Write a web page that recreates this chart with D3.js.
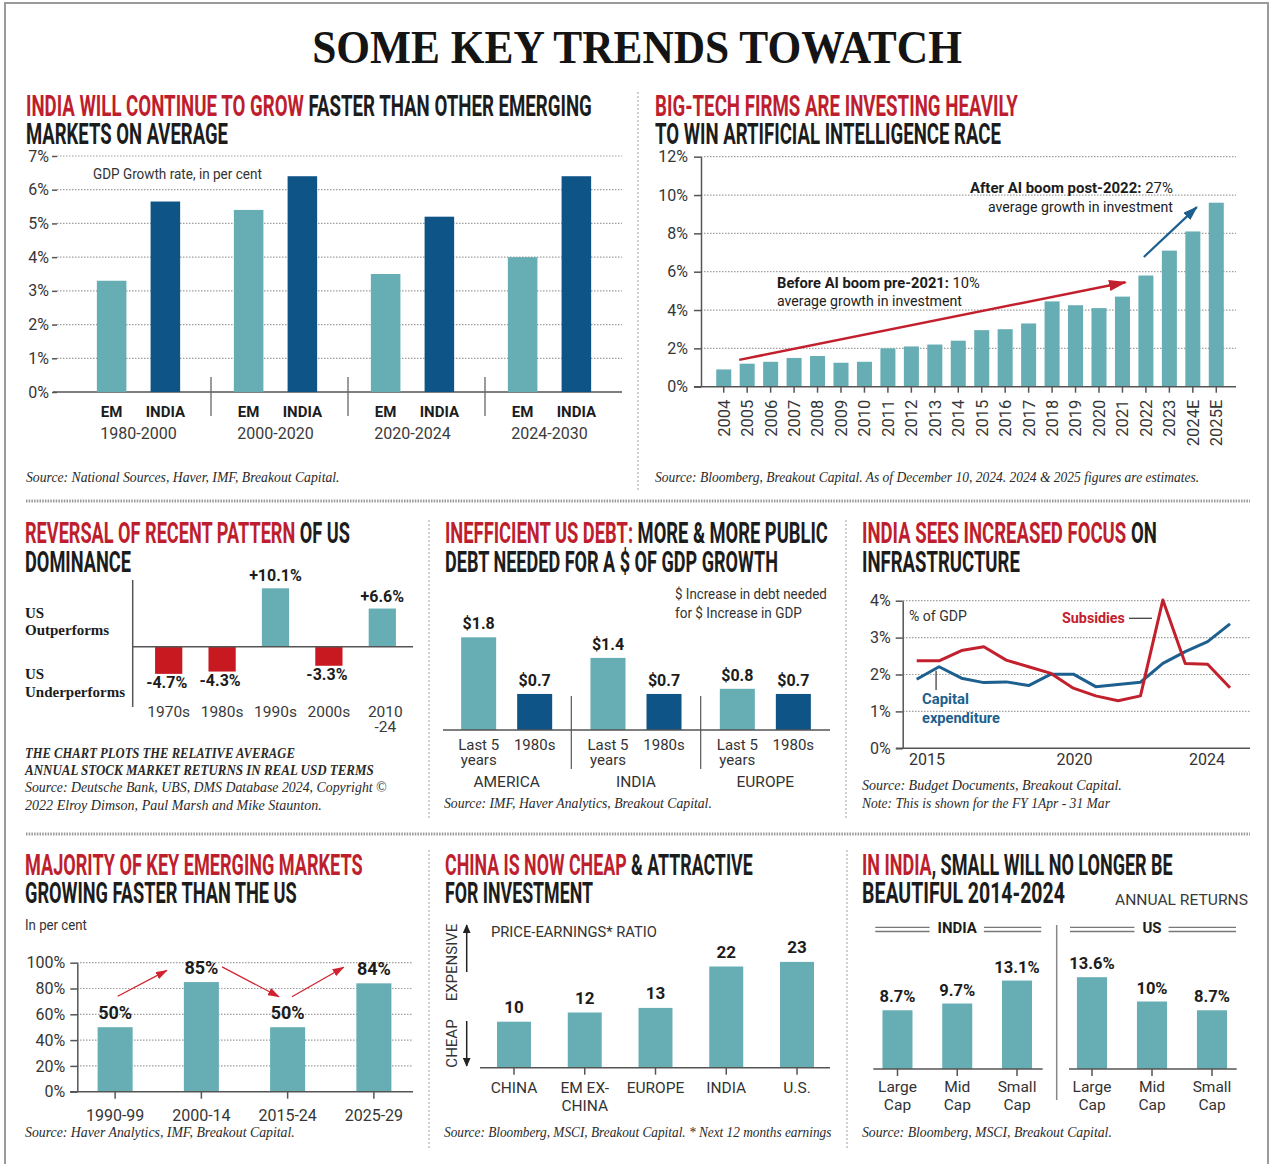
<!DOCTYPE html>
<html><head><meta charset="utf-8">
<script src="https://cdn.jsdelivr.net/npm/d3@7"></script>
<style>body{margin:0;background:#fff}svg{display:block}</style>
</head><body>
<script>
// ================= DATA =================
const gdpPeriods = ["1980-2000", "2000-2020", "2020-2024", "2024-2030"];
const gdpSeries = ["EM", "INDIA"];
const gdpEM = [3.3, 5.4, 3.5, 4.0];
const gdpIndia = [5.65, 6.4, 5.2, 6.4];
const gdpTicks = [0, 1, 2, 3, 4, 5, 6, 7];

const aiYears = ["2004","2005","2006","2007","2008","2009","2010","2011","2012","2013","2014","2015","2016","2017","2018","2019","2020","2021","2022","2023","2024E","2025E"];
const aiInvestment = [0.9,1.2,1.3,1.5,1.6,1.25,1.3,2.0,2.1,2.2,2.4,2.95,3.0,3.3,4.45,4.25,4.1,4.7,5.8,7.1,8.1,9.6];
const aiTicks = [0, 2, 4, 6, 8, 10, 12];

const usDecades = ["1970s","1980s","1990s","2000s","2010-24"];
const usDecadeLabels = [["1970s"],["1980s"],["1990s"],["2000s"],["2010","-24"]];
const usRelReturns = [-4.7, -4.3, 10.1, -3.3, 6.6];

const debtRegions = ["AMERICA","INDIA","EUROPE"];
const debtPeriods = ["Last 5 years","1980s"];
const debtPeriodLabels = [["Last 5","years"],["1980s"]];
const debtLast5 = [1.8, 1.4, 0.8];
const debt1980s = [0.7, 0.7, 0.7];

const infraCapex = [1.87,2.21,1.90,1.78,1.80,1.70,2.01,2.01,1.67,1.73,1.79,2.30,2.62,2.89,3.37];
const infraSubsidies = [2.37,2.37,2.65,2.75,2.39,2.21,2.03,1.63,1.42,1.29,1.42,4.02,2.30,2.28,1.64];
const infraTicks = [0, 1, 2, 3, 4];
const infraYearTicks = [2015, 2020, 2024];

const emPeriods = ["1990-99","2000-14","2015-24","2025-29"];
const emShareFaster = [50, 85, 50, 84];
const emTicks = [0, 20, 40, 60, 80, 100];

const peMarkets = ["CHINA","EM EX-CHINA","EUROPE","INDIA","U.S."];
const peMarketLabels = [["CHINA"],["EM EX-","CHINA"],["EUROPE"],["INDIA"],["U.S."]];
const peRatios = [10, 12, 13, 22, 23];

const capSizes = ["Large Cap","Mid Cap","Small Cap"];
const capSizeLabels = [["Large","Cap"],["Mid","Cap"],["Small","Cap"]];
const indiaCapReturns = [8.7, 9.7, 13.1];
const usCapReturns = [13.6, 10, 8.7];

// ================= STYLE =================
const TEAL = "#66adb4", NAVY = "#0e5487", BRED = "#c81820", HRED = "#be1e2d",
      INK = "#1c1c1c", GREY = "#363636", AXIS = "#555", GRID = "#9e9e9e",
      LRED = "#c3202e", LBLUE = "#1d5f8e";
const SANS = "Roboto, 'Open Sans', 'Liberation Sans', sans-serif";
const SERIF = "'Liberation Serif', 'DejaVu Serif', serif";

const W = 1274, H = 1164;
const svg = d3.select("body").append("svg").attr("width", W).attr("height", H);
svg.append("rect").attr("width", W).attr("height", H).attr("fill", "#fff");
const defs = svg.append("defs");

function marker(id, color, len, wid) {
  defs.append("marker").attr("id", id).attr("viewBox", "0 0 12 8").attr("refX", 11).attr("refY", 4)
    .attr("markerUnits", "userSpaceOnUse").attr("markerWidth", len).attr("markerHeight", wid)
    .attr("orient", "auto").attr("preserveAspectRatio", "none")
    .append("path").attr("d", "M0,0L12,4L0,8Z").attr("fill", color);
}
marker("arRed", LRED, 18, 11);
marker("arBlue", LBLUE, 15, 10);
marker("arRedSm", "#d1232f", 12, 8);
marker("arBlk", "#222", 9, 8);

function label(parent, x, y, content, o = {}) {
  const t = parent.append("text")
    .attr("transform", `translate(${x},${y})`)
    .attr("font-family", o.family || SANS)
    .attr("font-size", o.size || 15)
    .attr("font-weight", o.weight || 400)
    .attr("font-style", o.style || "normal")
    .attr("fill", o.fill || GREY)
    .attr("text-anchor", o.anchor || "start")
    .style("white-space", "pre");
  if (Array.isArray(content)) {
    content.forEach(p => {
      const ts = t.append("tspan").text(p[0]);
      if (p[1]) ts.attr("fill", p[1]);
      if (p[2]) ts.attr("font-weight", p[2]);
    });
  } else t.text(content);
  if (o.width) {
    const w = t.node().getComputedTextLength();
    t.attr("transform", `translate(${x},${y}) scale(${o.width / w},${o.sy || 1})`);
  }
  if (o.rotate) t.attr("transform", `translate(${x},${y}) rotate(${o.rotate})`);
  return t;
}
function headline(x, y, parts, width) {
  return label(svg, x, y, parts, { size: 25, sy: 1.16, weight: 700, width, fill: INK });
}
function source(x, y, s, width, bold) {
  return label(svg, x, y, s, { family: SERIF, size: 15, style: "italic", weight: bold ? 700 : 400, width, fill: "#2a2a2a" });
}
function hline(g, x1, x2, y, o = {}) {
  return g.append("line").attr("x1", x1).attr("x2", x2).attr("y1", y).attr("y2", y)
    .attr("stroke", o.stroke || AXIS).attr("stroke-width", o.w || 1.5)
    .attr("stroke-dasharray", o.dash || null);
}
function vline(g, x, y1, y2, o = {}) {
  return g.append("line").attr("x1", x).attr("x2", x).attr("y1", y1).attr("y2", y2)
    .attr("stroke", o.stroke || AXIS).attr("stroke-width", o.w || 1.5)
    .attr("stroke-dasharray", o.dash || null);
}
function styleAxis(ax, showDomain) {
  ax.attr("font-family", SANS).attr("font-size", 16);
  ax.select(".domain").attr("stroke", showDomain ? AXIS : "none").attr("stroke-width", 1.5);
  ax.selectAll(".tick line").attr("stroke", AXIS).attr("stroke-width", 1.5);
  ax.selectAll(".tick text").attr("fill", GREY);
}
function multiline(g, x, y, lines, o) {
  lines.forEach((s, i) => label(g, x, y + i * (o.lh || 17), s, o));
}

// ================= FRAME & DIVIDERS =================
svg.append("path").attr("d", `M5,${H}V3H1268V${H}`).attr("fill", "none").attr("stroke", "#9a9a9a").attr("stroke-width", 2);
const dv = svg.append("g");
hline(dv, 26, 1250, 501, { stroke: "#9a9a9a", w: 3, dash: "1.5,1.2" });
hline(dv, 26, 1250, 834, { stroke: "#9a9a9a", w: 3, dash: "1.5,1.2" });
[[638, 92, 492], [429, 520, 818], [846, 520, 818], [429, 850, 1150], [847, 850, 1150]]
  .forEach(d => vline(dv, d[0], d[1], d[2], { stroke: "#a0a0a0", w: 1, dash: "2,2" }));

// ================= TITLE =================
label(svg, 637, 63, "SOME KEY TRENDS TOWATCH", { family: SERIF, size: 46, weight: 700, anchor: "middle", width: 650, fill: "#141414" });

// ================= PANEL 1 =================
{
  const g = svg.append("g");
  headline(26, 116, [["INDIA WILL CONTINUE TO GROW", HRED], [" FASTER THAN OTHER EMERGING", INK]], 566);
  headline(26, 144, [["MARKETS ON AVERAGE", INK]], 202);
  const y = d3.scaleLinear().domain([0, 7]).range([392, 156]);
  const x0 = d3.scaleBand().domain(gdpPeriods).range([70, 618]);
  const x1 = d3.scaleBand().domain(gdpSeries).range([0, x0.bandwidth()]).paddingInner(0.45).paddingOuter(0.5);
  g.selectAll(".grid").data(gdpTicks.filter(d => d > 0)).join("line")
    .attr("x1", 57).attr("x2", 622).attr("y1", d => y(d)).attr("y2", d => y(d))
    .attr("stroke", GRID).attr("stroke-width", 1.2).attr("stroke-dasharray", "1.5,1.5");
  const ax = g.append("g").attr("transform", "translate(57,0)")
    .call(d3.axisLeft(y).tickValues(gdpTicks).tickFormat(d => d + "%").tickSize(5).tickPadding(3));
  styleAxis(ax, false);
  hline(g, 53, 622, y(0));
  label(g, 93, 179, "GDP Growth rate, in per cent", { size: 14, width: 169, fill: "#333" });
  const vals = { EM: gdpEM, INDIA: gdpIndia };
  const col = { EM: TEAL, INDIA: NAVY };
  gdpPeriods.forEach((p, i) => {
    gdpSeries.forEach(s => {
      const v = vals[s][i];
      g.append("rect").attr("x", x0(p) + x1(s)).attr("width", x1.bandwidth())
        .attr("y", y(v)).attr("height", y(0) - y(v)).attr("fill", col[s]);
      label(g, x0(p) + x1(s) + x1.bandwidth() / 2, 417, s, { size: 15, weight: 700, anchor: "middle", fill: INK });
    });
    label(g, x0(p) + x0.bandwidth() / 2, 439, p, { size: 16, anchor: "middle", fill: "#3a3a3a" });
    if (i > 0) vline(g, x0(p) + 4, 377, 416, { stroke: "#666", w: 1.3 });
  });
  source(26, 482, "Source: National Sources, Haver, IMF, Breakout Capital.", 314);
}

// ================= PANEL 2 =================
{
  const g = svg.append("g");
  headline(655, 116, [["BIG-TECH FIRMS ARE INVESTING HEAVILY", HRED]], 363);
  headline(655, 144, [["TO WIN ARTIFICIAL INTELLIGENCE RACE", INK]], 346);
  const y = d3.scaleLinear().domain([0, 12]).range([386.7, 156.7]);
  const x = d3.scaleBand().domain(aiYears).range([712, 1228]).paddingInner(0.36).paddingOuter(0.18);
  g.selectAll(".grid").data(aiTicks.filter(d => d > 0)).join("line")
    .attr("x1", 701).attr("x2", 1236).attr("y1", d => y(d)).attr("y2", d => y(d))
    .attr("stroke", GRID).attr("stroke-width", 1.2).attr("stroke-dasharray", "1.5,1.5");
  g.selectAll(".bar").data(aiInvestment).join("rect")
    .attr("x", (d, i) => x(aiYears[i])).attr("width", x.bandwidth())
    .attr("y", d => y(d)).attr("height", d => y(0) - y(d)).attr("fill", TEAL);
  const ay = g.append("g").attr("transform", "translate(701,0)")
    .call(d3.axisLeft(y).tickValues(aiTicks).tickFormat(d => d + "%").tickSize(7).tickPadding(6).tickSizeOuter(0));
  styleAxis(ay, true);
  hline(g, 694, 1236, y(0));
  const axb = g.append("g").attr("transform", `translate(0,${y(0)})`)
    .call(d3.axisBottom(x).tickSize(6).tickSizeOuter(0));
  styleAxis(axb, false);
  axb.selectAll(".tick text").attr("transform", "rotate(-90)").attr("text-anchor", "end")
    .attr("x", -13).attr("y", 0).attr("dy", "0.36em").attr("font-size", 16.5);
  const xc = k => x(k) + x.bandwidth() / 2;
  g.append("line").attr("x1", xc("2005") - 8).attr("y1", y(1.4)).attr("x2", xc("2021") + 3).attr("y2", y(5.45))
    .attr("stroke", LRED).attr("stroke-width", 2.5).attr("marker-end", "url(#arRed)");
  g.append("line").attr("x1", xc("2022") - 2).attr("y1", y(6.77)).attr("x2", xc("2024E") + 4).attr("y2", y(9.37))
    .attr("stroke", LBLUE).attr("stroke-width", 2.2).attr("marker-end", "url(#arBlue)");
  label(g, 777, 288, [["Before AI boom pre-2021:", INK, 700], [" 10%", INK, 400]], { size: 15, width: 203 });
  label(g, 777, 306, "average growth in investment", { size: 15, width: 185, fill: INK });
  label(g, 970, 193, [["After AI boom post-2022:", INK, 700], [" 27%", INK, 400]], { size: 15, width: 203 });
  label(g, 988, 212, "average growth in investment", { size: 15, width: 185, fill: INK });
  source(655, 482, "Source: Bloomberg, Breakout Capital. As of December 10, 2024. 2024 & 2025 figures are estimates.", 545);
}

// ================= PANEL 3 =================
{
  const g = svg.append("g");
  headline(25, 543, [["REVERSAL OF RECENT PATTERN", HRED], [" OF US", INK]], 325);
  headline(25, 572, [["DOMINANCE", INK]], 106);
  const y = d3.scaleLinear().domain([-5, 11]).range([675.6, 583.1]);
  const x = d3.scaleBand().domain(usDecades).range([142, 409]).paddingInner(0.49).paddingOuter(0.245);
  usDecades.forEach((dcd, i) => {
    const v = usRelReturns[i];
    const cx = x(dcd) + x.bandwidth() / 2;
    g.append("rect").attr("x", x(dcd)).attr("width", x.bandwidth())
      .attr("y", y(Math.max(0, v))).attr("height", Math.abs(y(v) - y(0)))
      .attr("fill", v >= 0 ? TEAL : BRED);
    const txt = (v > 0 ? "+" : "") + v.toFixed(1) + "%";
    label(g, cx - (v < 0 ? 2 : 0), v >= 0 ? y(v) - 7 : y(v) + 14, txt, { size: 16, weight: 700, anchor: "middle", fill: INK });
    multiline(g, cx + (usDecadeLabels[i].length > 1 ? 3 : 0), 717, usDecadeLabels[i], { size: 15.5, anchor: "middle", fill: "#3a3a3a", lh: 15 });
  });
  vline(g, 132.7, 580, 707, { stroke: "#555", w: 1.5 });
  hline(g, 132.7, 413, y(0), { stroke: "#555", w: 1.5 });
  const lo = { family: SERIF, size: 15, weight: 700, fill: INK };
  label(g, 25, 618, "US", lo); label(g, 25, 635, "Outperforms", lo);
  label(g, 25, 679, "US", lo); label(g, 25, 697, "Underperforms", lo);
  source(25, 758, "THE CHART PLOTS THE RELATIVE AVERAGE", 270, true);
  source(25, 775, "ANNUAL STOCK MARKET RETURNS IN REAL USD TERMS", 349, true);
  source(25, 792, "Source: Deutsche Bank, UBS, DMS Database 2024, Copyright ©", 362);
  source(25, 810, "2022 Elroy Dimson, Paul Marsh and Mike Staunton.", 297);
}

// ================= PANEL 4 =================
{
  const g = svg.append("g");
  headline(445, 543, [["INEFFICIENT US DEBT:", HRED], [" MORE & MORE PUBLIC", INK]], 383);
  headline(445, 572, [["DEBT NEEDED FOR A $ OF GDP GROWTH", INK]], 333);
  label(g, 675, 599, "$ Increase in debt needed", { size: 14.5, width: 152, fill: "#333" });
  label(g, 675, 618, "for $ Increase in GDP", { size: 14.5, width: 127, fill: "#333" });
  const y = d3.scaleLinear().domain([0, 2]).range([730, 627]);
  const x0 = d3.scaleBand().domain(debtRegions).range([442, 830]);
  const x1 = d3.scaleBand().domain(debtPeriods).range([0, x0.bandwidth()]).paddingInner(0.375).paddingOuter(0.342);
  const vals = { "Last 5 years": debtLast5, "1980s": debt1980s };
  const col = { "Last 5 years": TEAL, "1980s": NAVY };
  debtRegions.forEach((r, i) => {
    debtPeriods.forEach((p, j) => {
      const v = vals[p][i];
      const bx = x0(r) + x1(p);
      const cx = bx + x1.bandwidth() / 2;
      g.append("rect").attr("x", bx).attr("width", x1.bandwidth()).attr("y", y(v)).attr("height", y(0) - y(v)).attr("fill", col[p]);
      label(g, cx, y(v) - 8, "$" + v.toFixed(1), { size: 16, weight: 700, anchor: "middle", fill: INK });
      multiline(g, cx, 750, debtPeriodLabels[j], { size: 15, anchor: "middle", fill: "#333", lh: 15 });
    });
    label(g, x0(r) + x0.bandwidth() / 2, 787, r, { size: 15.5, anchor: "middle", fill: "#333" });
    if (i > 0) vline(g, x0(r), 696, 769, { stroke: "#666", w: 1.3 });
  });
  hline(g, 443, 830, y(0));
  source(444, 808, "Source: IMF, Haver Analytics, Breakout Capital.", 268);
}

// ================= PANEL 5 =================
{
  const g = svg.append("g");
  headline(862, 543, [["INDIA SEES INCREASED FOCUS", HRED], [" ON", INK]], 295);
  headline(862, 572, [["INFRASTRUCTURE", INK]], 158);
  const y = d3.scaleLinear().domain([0, 4]).range([748.3, 600.7]);
  const x = d3.scaleLinear().domain([0, infraCapex.length - 1]).range([916.7, 1230]);
  const xYear = d3.scaleLinear().domain([2015, 2024]).range([927, 1207]);
  g.selectAll(".grid").data(infraTicks.filter(d => d > 0)).join("line")
    .attr("x1", 903).attr("x2", 1250).attr("y1", d => y(d)).attr("y2", d => y(d))
    .attr("stroke", GRID).attr("stroke-width", 1.2).attr("stroke-dasharray", "1.5,1.5");
  const ay = g.append("g").attr("transform", "translate(902.7,0)")
    .call(d3.axisLeft(y).tickValues(infraTicks).tickFormat(d => d + "%").tickSize(7).tickPadding(5).tickSizeOuter(0));
  styleAxis(ay, true);
  hline(g, 896, 1250, y(0));
  infraYearTicks.forEach(yr => label(g, xYear(yr) - (yr === 2020 ? 8 : 0), 765, String(yr), { size: 16, anchor: "middle", fill: "#333" }));
  const line = d3.line().x((d, i) => x(i)).y(d => y(d));
  g.append("path").attr("d", line(infraCapex)).attr("fill", "none").attr("stroke", LBLUE).attr("stroke-width", 3).attr("stroke-linejoin", "round");
  g.append("path").attr("d", line(infraSubsidies)).attr("fill", "none").attr("stroke", LRED).attr("stroke-width", 3).attr("stroke-linejoin", "round");
  label(g, 909, 621, "% of GDP", { size: 14, width: 58, fill: "#333" });
  label(g, 1062, 623, "Subsidies", { size: 15, weight: 700, width: 63, fill: LRED });
  hline(g, 1129, 1152, 618.3, { stroke: "#444", w: 1.3 });
  vline(g, x(1) - 3, y(2.1), 690, { stroke: "#444", w: 1.3 });
  label(g, 922, 704, "Capital", { size: 15, weight: 700, width: 47, fill: LBLUE });
  label(g, 922, 723, "expenditure", { size: 15, weight: 700, width: 78, fill: LBLUE });
  source(862, 790, "Source: Budget Documents, Breakout Capital.", 260);
  source(862, 808, "Note: This is shown for the FY 1Apr - 31 Mar", 248);
}

// ================= PANEL 6 =================
{
  const g = svg.append("g");
  headline(25, 875, [["MAJORITY OF KEY EMERGING MARKETS", HRED]], 338);
  headline(25, 903, [["GROWING FASTER THAN THE US", INK]], 272);
  label(g, 25, 930, "In per cent", { size: 14, width: 62, fill: "#333" });
  const y = d3.scaleLinear().domain([0, 100]).range([1091.7, 962.7]);
  const x = d3.scaleBand().domain(emPeriods).range([72, 417]).paddingInner(0.594).paddingOuter(0.297);
  g.selectAll(".grid").data(emTicks.filter(d => d > 0)).join("line")
    .attr("x1", 77).attr("x2", 413).attr("y1", d => y(d)).attr("y2", d => y(d))
    .attr("stroke", GRID).attr("stroke-width", 1.2).attr("stroke-dasharray", "1.5,1.5");
  const ay = g.append("g").attr("transform", "translate(77.3,0)")
    .call(d3.axisLeft(y).tickValues(emTicks).tickFormat(d => d + "%").tickSize(7).tickPadding(5).tickSizeOuter(0));
  styleAxis(ay, true);
  g.selectAll(".bar").data(emShareFaster).join("rect")
    .attr("x", (d, i) => x(emPeriods[i])).attr("width", x.bandwidth())
    .attr("y", d => y(d)).attr("height", d => y(0) - y(d)).attr("fill", TEAL);
  hline(g, 70, 413, y(0));
  const ax = g.append("g").attr("transform", `translate(0,${y(0)})`)
    .call(d3.axisBottom(x).tickSize(7).tickPadding(11).tickSizeOuter(0));
  styleAxis(ax, false);
  const xc = p => x(p) + x.bandwidth() / 2;
  emPeriods.forEach((p, i) => label(g, xc(p), y(emShareFaster[i]) - 8, emShareFaster[i] + "%", { size: 18, weight: 700, anchor: "middle", fill: INK }));
  const st = x.step();
  // [from bar, offset (steps), from value, to bar, offset (steps), to value]
  const arrows = [[0, 0.03, 74, 0, 0.6, 94], [1, 0.24, 96.8, 2, -0.1, 73.6], [2, 0.05, 73.6, 3, -0.35, 96.5]];
  arrows.forEach(([i1, f1, v1, i2, f2, v2]) => {
    g.append("line")
      .attr("x1", xc(emPeriods[i1]) + f1 * st).attr("y1", y(v1))
      .attr("x2", xc(emPeriods[i2]) + f2 * st).attr("y2", y(v2))
      .attr("stroke", "#d1232f").attr("stroke-width", 1.3).attr("marker-end", "url(#arRedSm)");
  });
  source(25, 1137, "Source: Haver Analytics, IMF, Breakout Capital.", 270);
}

// ================= PANEL 7 =================
{
  const g = svg.append("g");
  headline(445, 875, [["CHINA IS NOW CHEAP", HRED], [" & ATTRACTIVE", INK]], 308);
  headline(445, 903, [["FOR INVESTMENT", INK]], 148);
  label(g, 491, 937, "PRICE-EARNINGS* RATIO", { size: 15, width: 166, fill: "#333" });
  const y = d3.scaleLinear().domain([0, 25]).range([1067.7, 952.7]);
  const x = d3.scaleBand().domain(peMarkets).range([478.6, 832.4]).paddingInner(0.52).paddingOuter(0.26);
  g.selectAll(".bar").data(peRatios).join("rect")
    .attr("x", (d, i) => x(peMarkets[i])).attr("width", x.bandwidth())
    .attr("y", d => y(d)).attr("height", d => y(0) - y(d)).attr("fill", TEAL);
  hline(g, 480, 830, y(0));
  const ax = g.append("g").attr("transform", `translate(0,${y(0)})`)
    .call(d3.axisBottom(x).tickSize(7).tickFormat("").tickSizeOuter(0));
  styleAxis(ax, false);
  peMarkets.forEach((m, i) => {
    const cx = x(m) + x.bandwidth() / 2;
    label(g, cx, y(peRatios[i]) - 9, String(peRatios[i]), { size: 17, weight: 700, anchor: "middle", fill: INK });
    multiline(g, cx, 1093, peMarketLabels[i], { size: 15.5, anchor: "middle", fill: "#333", lh: 18 });
  });
  label(g, 457, 962.5, "EXPENSIVE", { size: 15, anchor: "middle", fill: "#333", rotate: -90 });
  label(g, 457, 1043.5, "CHEAP", { size: 15, anchor: "middle", fill: "#333", rotate: -90 });
  g.append("line").attr("x1", 466.7).attr("x2", 466.7).attr("y1", 972).attr("y2", 925).attr("stroke", "#222").attr("stroke-width", 1.5).attr("marker-end", "url(#arBlk)");
  g.append("line").attr("x1", 466.7).attr("x2", 466.7).attr("y1", 1021).attr("y2", 1066).attr("stroke", "#222").attr("stroke-width", 1.5).attr("marker-end", "url(#arBlk)");
  source(444, 1137, "Source: Bloomberg, MSCI, Breakout Capital. * Next 12 months earnings", 388);
}

// ================= PANEL 8 =================
{
  const g = svg.append("g");
  headline(862, 875, [["IN INDIA", HRED], [", SMALL WILL NO LONGER BE", INK]], 311);
  headline(862, 903, [["BEAUTIFUL 2014-2024", INK]], 203);
  label(g, 1115, 905, "ANNUAL RETURNS", { size: 15, width: 133, fill: "#3a3a3a" });
  const y = d3.scaleLinear().domain([0, 14]).range([1069, 974.5]);
  const groups = [
    { name: "INDIA", vals: indiaCapReturns, range: [867.6, 1046.9], base: [873.3, 1042.7] },
    { name: "US", vals: usCapReturns, range: [1062, 1242], base: [1069, 1236.7] }
  ];
  groups.forEach(gr => {
    const x = d3.scaleBand().domain(capSizes).range(gr.range).paddingInner(0.498).paddingOuter(0.249);
    g.selectAll(null).data(gr.vals).join("rect")
      .attr("x", (d, i) => x(capSizes[i])).attr("width", x.bandwidth())
      .attr("y", d => y(d)).attr("height", d => y(0) - y(d)).attr("fill", TEAL);
    hline(g, gr.base[0], gr.base[1], y(0));
    const ax = g.append("g").attr("transform", `translate(0,${y(0)})`)
      .call(d3.axisBottom(x).tickSize(7).tickFormat("").tickSizeOuter(0));
    styleAxis(ax, false);
    capSizes.forEach((c, i) => {
      const cx = x(c) + x.bandwidth() / 2;
      label(g, cx, y(gr.vals[i]) - 8, gr.vals[i] + "%", { size: 16.5, weight: 700, anchor: "middle", fill: INK });
      multiline(g, cx, 1092, capSizeLabels[i], { size: 15.5, anchor: "middle", fill: "#333", lh: 18 });
    });
    const cen = (gr.range[0] + gr.range[1]) / 2;
    const t = label(g, cen, 933, gr.name, { size: 15, weight: 700, anchor: "middle", fill: INK });
    const tw = t.node().getComputedTextLength();
    [927.3, 931.5].forEach(yy => {
      hline(g, cen - 82, cen - tw / 2 - 8, yy, { stroke: "#777", w: 1.3 });
      hline(g, cen + tw / 2 + 7, cen + 84, yy, { stroke: "#777", w: 1.3 });
    });
  });
  vline(g, 1056.7, 925, 1100, { stroke: "#888", w: 1.5 });
  source(862, 1137, "Source: Bloomberg, MSCI, Breakout Capital.", 250);
}
</script>
</body></html>
